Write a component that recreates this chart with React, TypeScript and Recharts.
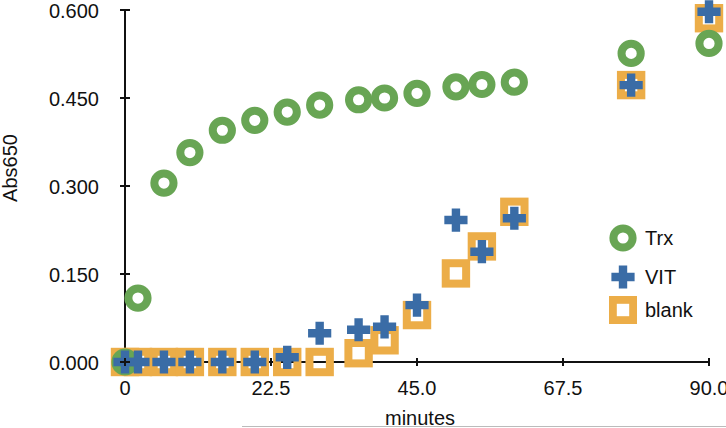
import React from "react";
import { ScatterChart, Scatter, XAxis, YAxis, Label, Legend } from "recharts";

const minutes = [0, 2, 6, 10, 15, 20, 25, 30, 36, 40, 45, 51, 55, 60, 78, 90];
const trx = [0, 0.109, 0.305, 0.357, 0.395, 0.412, 0.426, 0.438, 0.447, 0.45, 0.458, 0.469, 0.473, 0.477, 0.526, 0.543];
const vit = [0, 0, 0, 0, 0, 0, 0.008, 0.049, 0.055, 0.06, 0.097, 0.242, 0.188, 0.245, 0.472, 0.597];
const blank = [0, 0, 0, 0, 0, 0, 0, 0, 0.015, 0.037, 0.08, 0.151, 0.197, 0.256, 0.472, 0.586];

const xTicks = [0, 22.5, 45, 67.5, 90];
const yTicks = [0, 0.15, 0.3, 0.45, 0.6];

const seriesNames = ["Trx", "VIT", "blank"];

const GREEN = "#68a554";
const BLUE = "#3a6ca6";
const ORANGE = "#ecad48";
const FONT = "'Liberation Sans', Arial, Helvetica, sans-serif";
const AXIS = "#111";

const toPts = (vals: number[]) => minutes.map((m, i) => ({ x: m, y: vals[i] }));
const trxData = toPts(trx);
const vitData = toPts(vit);
const blankData = toPts(blank);

const RingShape = (p: any) => (
  <circle cx={p.cx} cy={p.cy} r={9.6} fill="none" stroke={GREEN} strokeWidth={8} />
);
const SquareShape = (p: any) => (
  <rect x={p.cx - 10.2} y={p.cy - 10.2} width={20.4} height={20.4} fill="none" stroke={ORANGE} strokeWidth={8} />
);
const plusPath = (cx: number, cy: number) => {
  const a = 11.6;
  const t = 4.2;
  return `M${cx - t},${cy - a}H${cx + t}V${cy - t}H${cx + a}V${cy + t}H${cx + t}V${cy + a}H${cx - t}V${cy + t}H${cx - a}V${cy - t}H${cx - t}Z`;
};
const PlusShape = (p: any) => <path d={plusPath(p.cx, p.cy)} fill={BLUE} />;

const YTick = (props: any) => {
  const { x, y, payload } = props;
  return (
    <g>
      <line x1={x - 5} x2={x + 5} y1={y} y2={y} stroke={AXIS} strokeWidth={2} />
      <text x={x - 26} y={y + 7.5} textAnchor="end" fontSize={20} fontFamily={FONT} fill="#111">
        {Number(payload.value).toFixed(3)}
      </text>
    </g>
  );
};

const XTick = (props: any) => {
  const { x, y, payload } = props;
  const v = Number(payload.value);
  return (
    <g>
      <line x1={x} x2={x} y1={y - 4} y2={y + 4} stroke={AXIS} strokeWidth={2} />
      <text x={x} y={y + 33} textAnchor="middle" fontSize={20} fontFamily={FONT} fill="#111">
        {v === 0 ? "0" : v.toFixed(1)}
      </text>
    </g>
  );
};

const legendIcons: Record<string, React.ReactNode> = {
  Trx: <circle cx={14} cy={14} r={9.6} fill="none" stroke={GREEN} strokeWidth={8} />,
  VIT: <path d={plusPath(14, 14)} fill={BLUE} />,
  blank: <rect x={3.8} y={3.8} width={20.4} height={20.4} fill="none" stroke={ORANGE} strokeWidth={8} />,
};
const legendRowCenters = [18, 56.5, 90];

const LegendContent = () => (
  <div style={{ position: "relative", width: 110, height: 110 }}>
    {seriesNames.map((n, i) => (
      <div
        key={n}
        style={{
          position: "absolute",
          left: 9,
          top: legendRowCenters[i] - 14,
          height: 28,
          display: "flex",
          alignItems: "center",
        }}
      >
        <svg width={28} height={28} style={{ display: "block" }}>
          {legendIcons[n]}
        </svg>
        <span style={{ marginLeft: 8, fontFamily: FONT, fontSize: 20, color: "#111", lineHeight: "28px" }}>{n}</span>
      </div>
    ))}
  </div>
);

export default function App() {
  return (
    <div style={{ position: "absolute", left: 0, top: 0, width: 726, height: 428, background: "#fff", overflow: "hidden" }}>
      <ScatterChart width={726} height={428} margin={{ top: 10, right: 17, bottom: 26, left: 45 }}>
        <XAxis
          type="number"
          dataKey="x"
          domain={[0, 90]}
          ticks={xTicks}
          interval={0}
          height={40}
          tickSize={0}
          tickMargin={0}
          tickLine={false}
          axisLine={{ stroke: AXIS, strokeWidth: 2 }}
          tick={<XTick />}
        >
          <Label
            content={() => (
              <text x={420} y={425} textAnchor="middle" fontSize={20} fontFamily={FONT} fill="#111">
                minutes
              </text>
            )}
          />
        </XAxis>
        <YAxis
          type="number"
          dataKey="y"
          domain={[0, 0.6]}
          ticks={yTicks}
          interval={0}
          width={80}
          tickSize={0}
          tickMargin={0}
          tickLine={false}
          axisLine={{ stroke: AXIS, strokeWidth: 2 }}
          tick={<YTick />}
        >
          <Label
            content={() => (
              <text
                x={10}
                y={168}
                transform="rotate(-90 10 168)"
                textAnchor="middle"
                dominantBaseline="central"
                fontSize={20}
                fontFamily={FONT}
                fill="#111"
              >
                Abs650
              </text>
            )}
          />
        </YAxis>
        <Legend
          layout="vertical"
          align="center"
          verticalAlign="middle"
          content={<LegendContent />}
          wrapperStyle={{ position: "absolute", left: 600, top: 220, width: 110, height: 110 }}
        />
        <Scatter name="blank" data={blankData} shape={SquareShape} isAnimationActive={false} />
        <Scatter name="Trx" data={trxData} shape={RingShape} isAnimationActive={false} />
        <Scatter name="VIT" data={vitData} shape={PlusShape} isAnimationActive={false} />
      </ScatterChart>
      <div style={{ position: "absolute", left: 242, top: 426, width: 484, height: 0, borderTop: "1px solid #bbb" }} />
    </div>
  );
}
